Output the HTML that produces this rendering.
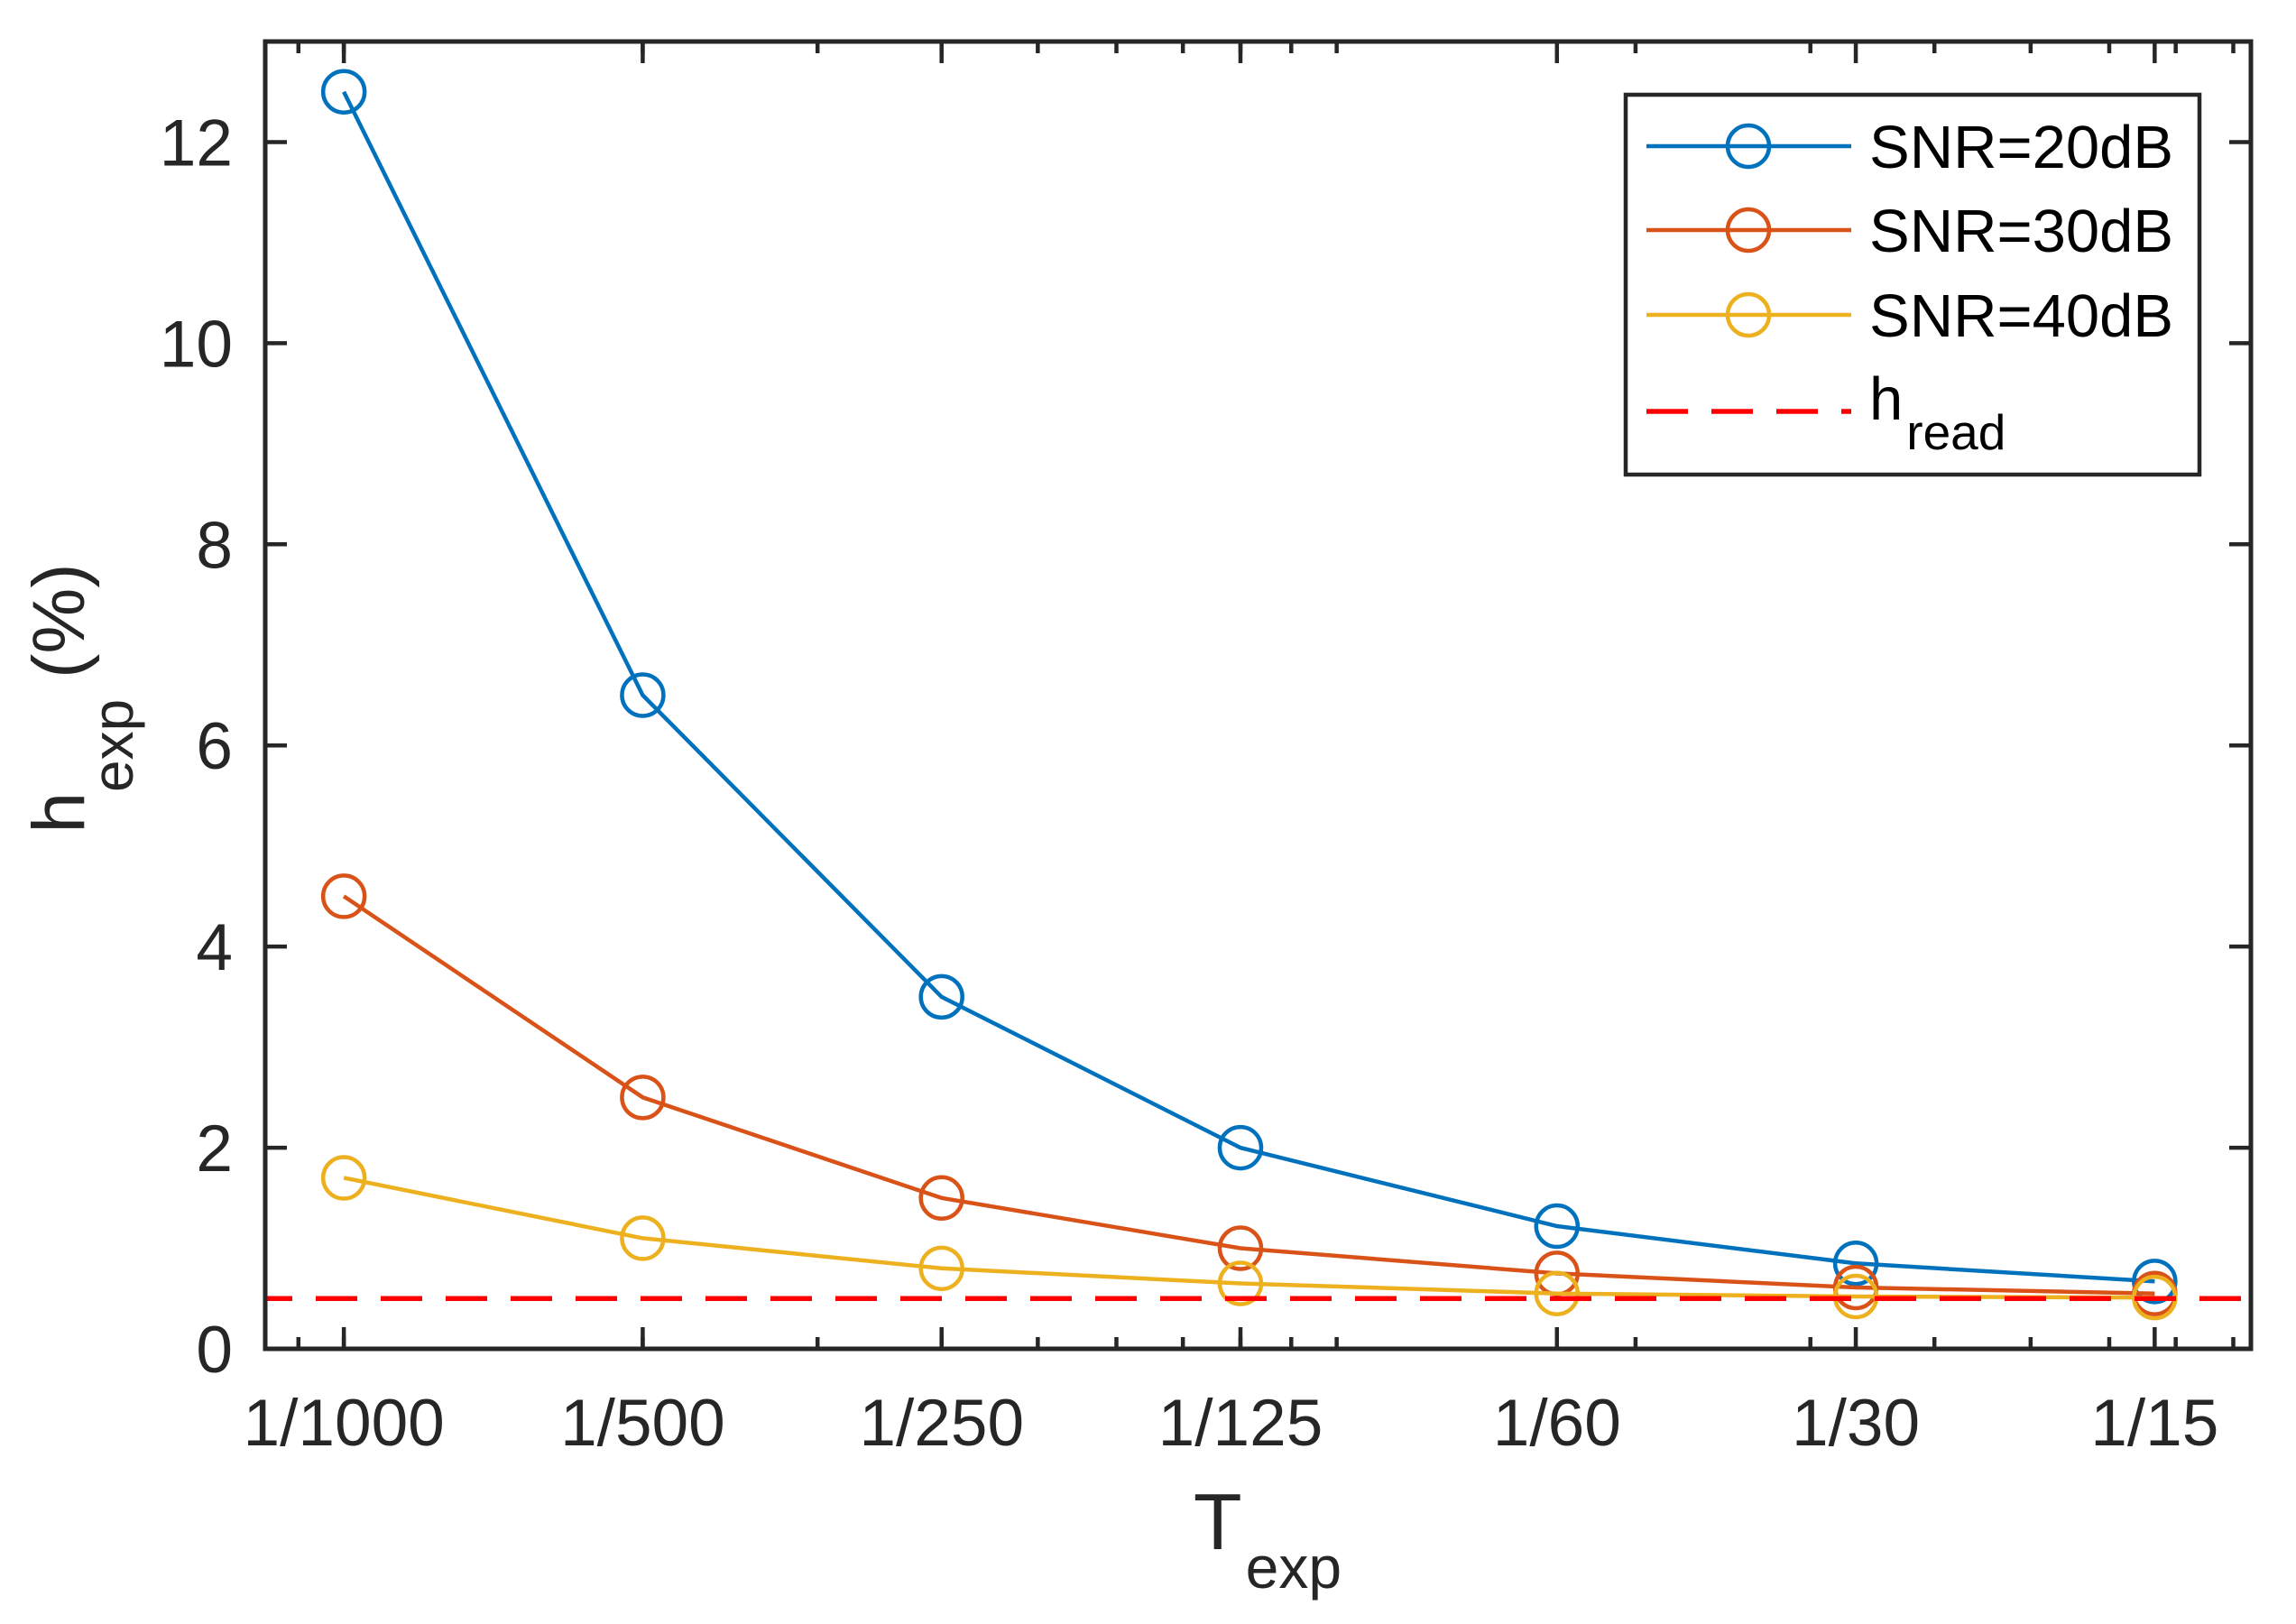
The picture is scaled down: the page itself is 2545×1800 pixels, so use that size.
<!DOCTYPE html>
<html><head><meta charset="utf-8"><style>
html,body{margin:0;padding:0;background:#fff;}
svg{display:block;font-family:"Liberation Sans",Arial,sans-serif;}
</style></head><body>
<svg id="chart" width="2545" height="1800" viewBox="0 0 2545 1800" xmlns="http://www.w3.org/2000/svg">
<rect x="0" y="0" width="2545" height="1800" fill="#fff"/>
<g id="grid-ticks"></g>
<g id="series"></g>
<rect x="294" y="46" width="2201" height="1449" fill="none" stroke="#262626" stroke-width="5"/>
<g id="labels" fill="#262626" font-size="73"></g>
<text x="1405" y="1717" font-size="88" fill="#262626" text-anchor="middle">T<tspan font-size="66" dy="43" dx="4">exp</tspan></text>
<text transform="translate(93,774) rotate(-90)" font-size="82" fill="#262626" text-anchor="middle">h<tspan font-size="64" dy="54">exp</tspan><tspan dy="-54"> (%)</tspan></text>
<g id="legend">
<rect x="1802" y="105" width="636" height="421" fill="#fff" stroke="#262626" stroke-width="4.5"/>
</g>
</svg>
<script>
const categories = ["1/1000","1/500","1/250","1/125","1/60","1/30","1/15"];
const xValues = [1/1000,1/500,1/250,1/125,1/60,1/30,1/15];
const snr20 = [12.5,6.5,3.5,2.0,1.22,0.85,0.67];
const snr30 = [4.5,2.5,1.5,1.0,0.75,0.61,0.55];
const snr40 = [1.7,1.1,0.8,0.65,0.55,0.52,0.51];
const hRead = [0.5];
const yTicks = [0,2,4,6,8,10,12];
const seriesNames = ["SNR=20dB","SNR=30dB","SNR=40dB"];

const NS="http://www.w3.org/2000/svg";
const L=294,R=2495,T=46,B=1495;
const xmin=1/1200,xmax=1/12,ymin=0,ymax=13;
function xs(v){return L+(Math.log(v)-Math.log(xmin))/(Math.log(xmax)-Math.log(xmin))*(R-L);}
function ys(v){return B-(v-ymin)/(ymax-ymin)*(B-T);}
function mk(tag,attrs,parent){const e=document.createElementNS(NS,tag);for(const k in attrs)e.setAttribute(k,attrs[k]);parent.appendChild(e);return e;}

const tg=document.getElementById('grid-ticks');
yTicks.forEach(v=>{
  const y=ys(v);
  const a=mk('line',{x1:L,x2:L+24,y1:y,y2:y,stroke:'#262626','stroke-width':4.5},tg);
  
  
  const b=mk('line',{x1:R,x2:R-24,y1:y,y2:y,stroke:'#262626','stroke-width':4.5},tg);
  
  
});
[1e-4,1e-3,1e-2].forEach(d=>{for(let k=1;k<=9;k++){const v=k*d;if(v<xmin||v>xmax)continue;const x=xs(v);
  const a=mk('line',{x1:x,x2:x,y1:B,y2:B-13,stroke:'#262626','stroke-width':4.5},tg);
  
  
  const b=mk('line',{x1:x,x2:x,y1:T,y2:T+13,stroke:'#262626','stroke-width':4.5},tg);
  
  
}});
xValues.forEach(v=>{const x=xs(v);
  const a=mk('line',{x1:x,x2:x,y1:B,y2:B-24,stroke:'#262626','stroke-width':4.5},tg);
  
  
  const b=mk('line',{x1:x,x2:x,y1:T,y2:T+24,stroke:'#262626','stroke-width':4.5},tg);
  
  
});
const lg=document.getElementById('labels');
yTicks.forEach(v=>{const t=mk('text',{x:258,y:ys(v)+26,'text-anchor':'end'},lg);t.textContent=String(v);
  
  });
categories.forEach((c,i)=>{const t=mk('text',{x:xs(xValues[i]),y:1602,'text-anchor':'middle'},lg);t.textContent=c;
  
  });

const sg=document.getElementById('series');
const colors=['#0072BD','#D95319','#EDB120'];
[snr20,snr30,snr40].forEach((arr,si)=>{
  const pts=arr.map((v,i)=>xs(xValues[i]).toFixed(1)+','+ys(v).toFixed(1)).join(' ');
  const pl=mk('polyline',{points:pts,fill:'none',stroke:colors[si],'stroke-width':4.5},sg);
  
  
  arr.forEach((v,i)=>{const c=mk('circle',{cx:xs(xValues[i]),cy:ys(v),r:23,fill:'none',stroke:colors[si],'stroke-width':4.5},sg);
    
    });
});
const rl=mk('line',{x1:L,x2:R,y1:ys(hRead[0]),y2:ys(hRead[0]),stroke:'#FF0000','stroke-width':5.5,'stroke-dasharray':'46 26','stroke-dashoffset':16},sg);



const lgd=document.getElementById('legend');
const rows=[162,255,349];
seriesNames.forEach((n,i)=>{
  const l=mk('line',{x1:1825,x2:2052,y1:rows[i],y2:rows[i],stroke:colors[i],'stroke-width':4.5},lgd);
  
  
  const c=mk('circle',{cx:1938,cy:rows[i],r:23,fill:'none',stroke:colors[i],'stroke-width':4.5},lgd);
  
  
  const t=mk('text',{x:2072,y:rows[i]+24,'font-size':67,fill:'#000'},lgd);t.textContent=n;
  
  
});
const rd=mk('line',{x1:1825,x2:2052,y1:456,y2:456,stroke:'#FF0000','stroke-width':5.5,'stroke-dasharray':'46 26'},lgd);


const ht=mk('text',{x:2072,y:465,'font-size':67,fill:'#000'},lgd);


ht.innerHTML='h<tspan font-size="55" dy="33" dx="4">read</tspan>';
</script>
</body></html>
